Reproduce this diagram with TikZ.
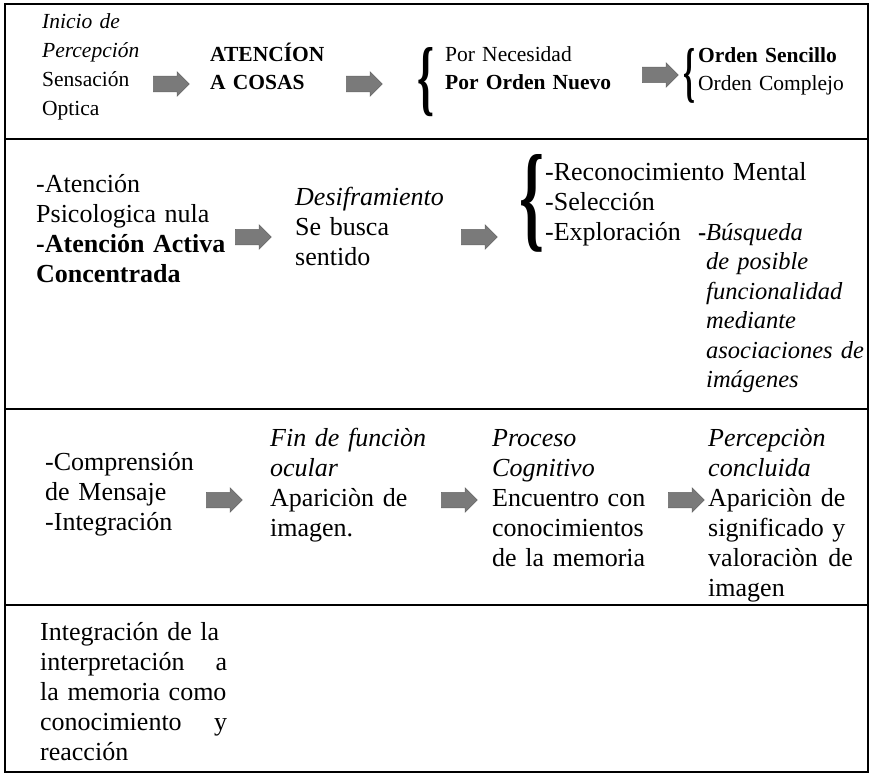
\documentclass[tikz,border=0pt]{standalone}
\usepackage{fontspec}
\usepackage{graphicx}
\setmainfont{Liberation Serif}
\usetikzlibrary{shapes.arrows}
\newcommand\fa{\fontsize{21.5}{29}\selectfont}
\newcommand\faa{\fontsize{21.5}{28}\selectfont}
\newcommand\fb{\fontsize{26}{30}\selectfont}
\newcommand\fc{\fontsize{24.5}{29.5}\selectfont}
\newcommand\bracefig[2]{\resizebox{#1}{#2}{\textbf{\{}}}
\newcommand\jline[2]{\leavevmode\hbox to 187pt{#1\hfill #2}}
\begin{document}
\begin{tikzpicture}[x=1pt,y=-1pt,
  txt/.style={anchor=base west, align=left, inner sep=0pt, text width=#1},
  txt/.default=200pt,
  blk/.style={single arrow, fill=black!52, draw=black!60, line width=0.5pt,
    minimum height=36pt, inner sep=7.5pt, single arrow head extend=4.5pt,
    single arrow tip angle=90, anchor=west},
  brc/.style={inner sep=0pt, anchor=center},
  frame/.style={line width=2.6pt}]
\useasboundingbox (0,0) rectangle (873,776);
\draw[frame] (5,4) rectangle (868,772);
\draw[frame] (5,139) -- (868,139);
\draw[frame] (5,409) -- (868,409);
\draw[frame] (5,605) -- (868,605);

% Row 1
\node[txt=110pt, font=\fa] (r1a) at (42,29) {\textit{Inicio de}\\\textit{Percepción}\\Sensación\\Optica};
\node[blk] (ar1) at (153,84) {};
\node[txt=120pt, font=\faa\bfseries] (r1b) at (210,62) {ATENCÍON\\A COSAS};
\node[blk] (ar2) at (346,84) {};
\node[brc] (br1) at (426,82) {\bracefig{17pt}{58pt}};
\node[txt=180pt, font=\faa] (r1c) at (445,62) {Por Necesidad\\\textbf{Por Orden Nuevo}};
\node[blk] (ar3) at (642,75) {};
\node[brc] (br2) at (689,76) {\bracefig{12pt}{46pt}};
\node[txt=160pt, font=\faa] (r1d) at (698,63) {\textbf{Orden Sencillo}\\Orden Complejo};

% Row 2
\node[txt=200pt, font=\fb] (r2a) at (36,192) {-Atención\\Psicologica nula\\\textbf{-Atención Activa}\\\textbf{Concentrada}};
\node[blk] (ar4) at (235,237) {};
\node[txt=170pt, font=\fb] (r2b) at (295,205) {\textit{Desiframiento}\\Se busca\\sentido};
\node[blk] (ar5) at (461,237) {};
\node[brc] (br3) at (532,203) {\bracefig{25pt}{82pt}};
\node[txt=300pt, font=\fb] (r2c) at (545,180) {-Reconocimiento Mental\\-Selección\\-Exploración};
\node[txt=165pt, font=\fc\itshape] (r2d) at (706,240) {\llap{\textbf{\upshape -}}Búsqueda\\de posible\\funcionalidad\\mediante\\asociaciones de\\imágenes};

% Row 3
\node[txt=170pt, font=\fb] (r3a) at (45,470) {-Comprensión\\de Mensaje\\-Integración};
\node[blk] (ar6) at (206,500) {};
\node[txt=170pt, font=\fb] (r3b) at (270,446) {\textit{Fin de funciòn}\\\textit{ocular}\\Apariciòn de\\imagen.};
\node[blk] (ar7) at (441,500) {};
\node[txt=180pt, font=\fb] (r3c) at (492,446) {\textit{Proceso}\\\textit{Cognitivo}\\Encuentro con\\conocimientos\\de la memoria};
\node[blk] (ar8) at (668,500) {};
\node[txt=158pt, font=\fb] (r3d) at (708,446) {\textit{Percepciòn}\\\textit{concluida}\\Apariciòn de\\significado y\\valoraciòn\hspace{0.4em}de\\imagen};

% Row 4
\node[txt=200pt, font=\fb] (r4a) at (40,640) {Integración de la\\\jline{interpretación}{a}\\la memoria como\\\jline{conocimiento}{y}\\reacción};
\end{tikzpicture}
\end{document}
